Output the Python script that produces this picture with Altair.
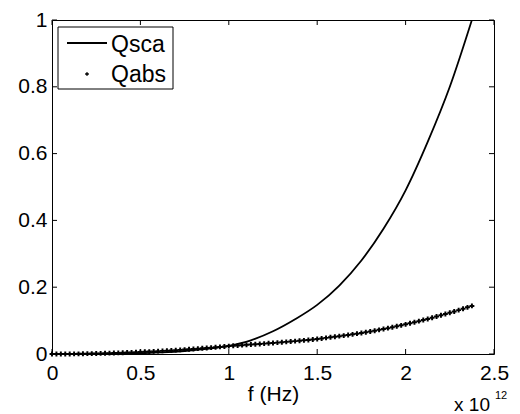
import altair as alt
import pandas as pd

# frequency samples (units of 1e12 Hz) and absorption efficiency
f_abs = [0.000, 0.025, 0.050, 0.075, 0.100, 0.125, 0.150, 0.175, 0.200, 0.225,
         0.250, 0.275, 0.300, 0.325, 0.350, 0.375, 0.400, 0.425, 0.450, 0.475,
         0.500, 0.525, 0.550, 0.575, 0.600, 0.625, 0.650, 0.675, 0.700, 0.725,
         0.750, 0.775, 0.800, 0.825, 0.850, 0.875, 0.900, 0.925, 0.950, 0.975,
         1.000, 1.025, 1.050, 1.075, 1.100, 1.125, 1.150, 1.175, 1.200, 1.225,
         1.250, 1.275, 1.300, 1.325, 1.350, 1.375, 1.400, 1.425, 1.450, 1.475,
         1.500, 1.525, 1.550, 1.575, 1.600, 1.625, 1.650, 1.675, 1.700, 1.725,
         1.750, 1.775, 1.800, 1.825, 1.850, 1.875, 1.900, 1.925, 1.950, 1.975,
         2.000, 2.025, 2.050, 2.075, 2.100, 2.125, 2.150, 2.175, 2.200, 2.225,
         2.250, 2.275, 2.300, 2.325, 2.350, 2.375]
q_abs = [0.0000, 0.0000, 0.0001, 0.0001, 0.0002, 0.0004, 0.0005, 0.0007, 0.0010, 0.0012,
         0.0015, 0.0018, 0.0022, 0.0026, 0.0030, 0.0034, 0.0039, 0.0044, 0.0049, 0.0054,
         0.0060, 0.0066, 0.0072, 0.0079, 0.0086, 0.0093, 0.0100, 0.0108, 0.0116, 0.0124,
         0.0132, 0.0141, 0.0150, 0.0160, 0.0170, 0.0180, 0.0191, 0.0202, 0.0213, 0.0225,
         0.0237, 0.0247, 0.0256, 0.0265, 0.0274, 0.0283, 0.0292, 0.0301, 0.0311, 0.0321,
         0.0331, 0.0341, 0.0352, 0.0363, 0.0374, 0.0385, 0.0397, 0.0409, 0.0421, 0.0433,
         0.0448, 0.0466, 0.0483, 0.0500, 0.0517, 0.0534, 0.0551, 0.0570, 0.0589, 0.0609,
         0.0630, 0.0652, 0.0674, 0.0698, 0.0723, 0.0748, 0.0774, 0.0801, 0.0829, 0.0858,
         0.0888, 0.0919, 0.0950, 0.0983, 0.1016, 0.1050, 0.1085, 0.1121, 0.1158, 0.1196,
         0.1234, 0.1274, 0.1314, 0.1355, 0.1397, 0.1440]

# scattering efficiency (solid curve)
f_sca = [0.000, 0.125, 0.250, 0.375, 0.500, 0.625, 0.750, 0.875, 1.000, 1.125,
         1.250, 1.375, 1.500, 1.625, 1.750, 1.875, 2.000, 2.125, 2.250, 2.375]
q_sca = [0.0000, 0.0000, 0.0002, 0.0008, 0.0022, 0.0048, 0.0090, 0.0153, 0.0245, 0.0410,
         0.0680, 0.1040, 0.1470, 0.2050, 0.2800, 0.3750, 0.4900, 0.6350, 0.8000, 1.0000]

x_ticks = [0, 0.5, 1, 1.5, 2, 2.5]
y_ticks = [0, 0.2, 0.4, 0.6, 0.8, 1.0]
legend_labels = ["Qsca", "Qabs"]
x_title = "f (Hz)"
exp_base = "x 10"
exp_power = "12"

FONT = "Liberation Sans"
W, H = 442, 334
TICK = 5

df_abs = pd.DataFrame({"f": f_abs, "q": q_abs})
df_sca = pd.DataFrame({"f": f_sca, "q": q_sca})
df_xt = pd.DataFrame({"f": x_ticks})
df_yt = pd.DataFrame({"q": y_ticks})
one = pd.DataFrame({"k": [0]})

xs = alt.Scale(domain=[0, 2.5], nice=False, zero=False)
ys = alt.Scale(domain=[0, 1], nice=False, zero=False)

x_axis = alt.Axis(values=x_ticks, format="~g", ticks=False, domain=False, grid=False,
                  labelFont=FONT, labelFontSize=21, labelColor="black", labelPadding=8,
                  labelFlush=False, labelOverlap=False,
                  title=x_title, titleFont=FONT, titleFontSize=21, titleFontWeight="normal",
                  titleColor="black", titlePadding=0)
y_axis = alt.Axis(values=y_ticks, format="~g", ticks=False, domain=False, grid=False,
                  labelFont=FONT, labelFontSize=21, labelColor="black", labelPadding=5,
                  labelFlush=False, labelOverlap=False, title=None)

X = alt.X("f:Q", scale=xs, axis=x_axis)
Y = alt.Y("q:Q", scale=ys, axis=y_axis)

sca = alt.Chart(df_sca).mark_line(color="black", strokeWidth=1.8, interpolate="monotone",
                                  clip=True).encode(x=X, y=Y)
absp = alt.Chart(df_abs).mark_point(shape="cross", filled=True, size=24, color="black",
                                    opacity=1).encode(x=X, y=Y)

tick_bottom = alt.Chart(df_xt).mark_rule(color="black", strokeWidth=1).encode(
    x=X, y=alt.value(H), y2=alt.value(H - TICK))
tick_top = alt.Chart(df_xt).mark_rule(color="black", strokeWidth=1).encode(
    x=X, y=alt.value(0), y2=alt.value(TICK))
tick_left = alt.Chart(df_yt).mark_rule(color="black", strokeWidth=1).encode(
    y=Y, x=alt.value(0), x2=alt.value(TICK))
tick_right = alt.Chart(df_yt).mark_rule(color="black", strokeWidth=1).encode(
    y=Y, x=alt.value(W - TICK), x2=alt.value(W))

# legend box (drawn like MATLAB's)
leg_box = alt.Chart(one).mark_rect(fill="white", stroke="black", strokeWidth=1).encode(
    x=alt.value(6), x2=alt.value(121), y=alt.value(7), y2=alt.value(69))
leg_line = alt.Chart(one).mark_rule(color="black", strokeWidth=1.8).encode(
    x=alt.value(15), x2=alt.value(55), y=alt.value(23))
leg_dot = alt.Chart(one).mark_point(shape="cross", filled=True, size=14, color="black",
                                    opacity=1).encode(
    x=alt.value(35), y=alt.value(54))
leg_t1 = alt.Chart(one).mark_text(align="left", baseline="alphabetic", font=FONT,
                                  fontSize=23, color="black").encode(
    x=alt.value(59), y=alt.value(32), text=alt.value(legend_labels[0]))
leg_t2 = alt.Chart(one).mark_text(align="left", baseline="alphabetic", font=FONT,
                                  fontSize=23, color="black").encode(
    x=alt.value(59), y=alt.value(62), text=alt.value(legend_labels[1]))

exp1 = alt.Chart(one).mark_text(align="right", baseline="alphabetic", font=FONT,
                                fontSize=19, color="black").encode(
    x=alt.value(438), y=alt.value(391), text=alt.value(exp_base))
exp2 = alt.Chart(one).mark_text(align="left", baseline="alphabetic", font=FONT,
                                fontSize=11, color="black").encode(
    x=alt.value(443), y=alt.value(379), text=alt.value(exp_power))

chart = alt.layer(
    sca, absp, tick_bottom, tick_top, tick_left, tick_right,
    leg_box, leg_line, leg_dot, leg_t1, leg_t2, exp1, exp2,
).properties(
    width=W, height=H,
    autosize=alt.AutoSizeParams(type="none"),
    padding={"left": 52, "top": 20, "right": 26, "bottom": 60},
    background="white",
).configure_view(stroke="black", strokeWidth=1)

chart.save("out.html", embed_options={"renderer": "svg", "actions": False})
